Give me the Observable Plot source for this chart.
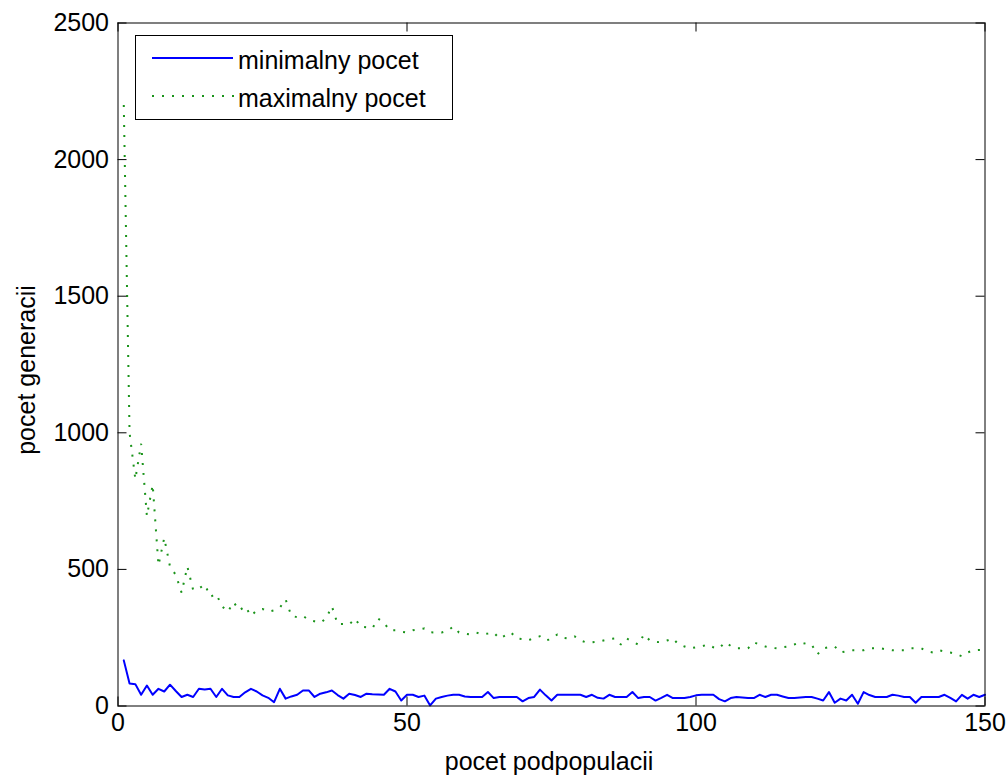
<!DOCTYPE html>
<html><head><meta charset="utf-8">
<script src="https://cdn.jsdelivr.net/npm/d3@7"></script>
<script src="https://cdn.jsdelivr.net/npm/@observablehq/plot@0.6"></script>
<style>html,body{margin:0;padding:0;background:#fff;} svg{display:block}</style>
</head><body><div id="chart"></div>
<script>
const populations = Array.from({length: 150}, (_, i) => i + 1);
const minGen = [167,82,80,41,75,41,63,53,78,55,
 33,41,33,63,60,63,33,63,39,33,
 33,50,63,53,39,30,14,63,27,35,
 41,57,57,33,45,50,57,40,27,45,
 40,33,45,43,42,41,63,53,20,41,
 41,33,38,2,27,33,38,41,41,35,
 33,33,33,51,29,33,33,33,33,17,
 29,33,60,39,20,41,41,41,41,41,
 33,41,30,27,41,33,33,33,51,29,
 33,33,20,30,41,29,29,29,33,39,
 41,41,41,25,17,29,33,31,29,29,
 41,33,41,41,35,29,29,31,33,33,
 27,20,51,12,27,20,41,8,51,40,
 33,33,33,41,38,33,33,12,33,33,
 33,33,41,30,17,41,27,41,33,41];
const maxGen = [2200,1000,830,960,695,810,515,615,510,480,
 415,510,425,430,445,400,410,365,345,380,
 350,365,330,350,355,345,350,360,390,330,
 325,330,315,310,305,320,365,300,300,298,
 320,290,288,284,320,305,277,277,272,269,
 277,280,284,270,269,269,275,291,269,265,
 262,269,262,265,269,247,258,269,247,245,
 240,250,255,240,245,262,250,247,255,240,
 233,233,235,240,245,247,225,247,235,225,
 262,240,235,233,240,247,225,218,211,215,
 218,225,215,211,233,220,211,211,211,233,
 225,218,213,211,215,218,225,233,228,225,
 189,211,215,218,196,200,204,204,204,211,
 211,211,207,204,204,204,211,211,211,200,
 196,204,200,196,190,182,196,204,205,205];
const xTicks = [0, 50, 100, 150];
const yTicks = [0, 500, 1000, 1500, 2000, 2500];
const seriesNames = ["minimalny pocet", "maximalny pocet"];
const xLabel = "pocet podpopulacii";
const yLabel = "pocet generacii";

const minRows = populations.map((p, i) => ({p, v: minGen[i]}));
const maxRows = populations.map((p, i) => ({p, v: maxGen[i]}));

const W = 1007, H = 776, mL = 117.5, mR = 22.5, mT = 22.5, mB = 70.5;
const pw = W - mL - mR, ph = H - mT - mB, tk = 9;
const font = "'Liberation Sans', Arial, sans-serif";
const blue = "#0000ff", green = "#1a931a", dots = "2,8";

const chart = Plot.plot({
  width: W, height: H,
  marginLeft: mL, marginRight: mR, marginTop: mT, marginBottom: mB,
  style: {fontFamily: font, fontSize: "25px", background: "white", color: "black"},
  x: {domain: [0, 150]},
  y: {domain: [0, 2500]},
  marks: [
    Plot.line(maxRows, {x: "p", y: "v", stroke: green, strokeWidth: 2, strokeDasharray: dots, strokeLinecap: "butt", strokeLinejoin: "miter"}),
    Plot.line(minRows, {x: "p", y: "v", stroke: blue, strokeWidth: 2}),
    Plot.frame({stroke: "black", strokeWidth: 1}),
    Plot.ruleX(xTicks, {x: d => d, insetTop: ph - tk, stroke: "black"}),
    Plot.ruleX(xTicks, {x: d => d, insetBottom: ph - tk, stroke: "black"}),
    Plot.ruleY(yTicks, {y: d => d, insetRight: pw - tk, stroke: "black"}),
    Plot.ruleY(yTicks, {y: d => d, insetLeft: pw - tk, stroke: "black"}),
    Plot.axisX({ticks: xTicks, tickSize: 0, tickPadding: 7, label: null, tickFormat: d => String(d)}),
    Plot.axisY({ticks: yTicks, tickSize: 0, tickPadding: 9, label: null, tickFormat: d => String(d)})
  ]
});

const svg = d3.select(chart);
svg.append("text").attr("x", 549).attr("y", 770).attr("text-anchor", "middle")
  .attr("font-family", font).attr("font-size", 25).attr("fill", "black").text(xLabel);
svg.append("text").attr("transform", "translate(35,370) rotate(-90)").attr("text-anchor", "middle")
  .attr("font-family", font).attr("font-size", 25).attr("fill", "black").text(yLabel);

const lg = svg.append("g");
lg.append("rect").attr("x", 135.5).attr("y", 35.5).attr("width", 317).attr("height", 84)
  .attr("fill", "white").attr("stroke", "black");
lg.append("line").attr("x1", 152).attr("x2", 233).attr("y1", 58).attr("y2", 58)
  .attr("stroke", blue).attr("stroke-width", 2);
lg.append("line").attr("x1", 152).attr("x2", 235).attr("y1", 96).attr("y2", 96)
  .attr("stroke", green).attr("stroke-width", 2).attr("stroke-dasharray", dots).attr("stroke-linecap", "butt");
seriesNames.forEach((s, i) => {
  lg.append("text").attr("x", 238).attr("y", i === 0 ? 69 : 107).attr("text-anchor", "start")
    .attr("font-family", font).attr("font-size", 25).attr("fill", "black").text(s);
});

document.getElementById("chart").appendChild(chart);
</script>
</body></html>
